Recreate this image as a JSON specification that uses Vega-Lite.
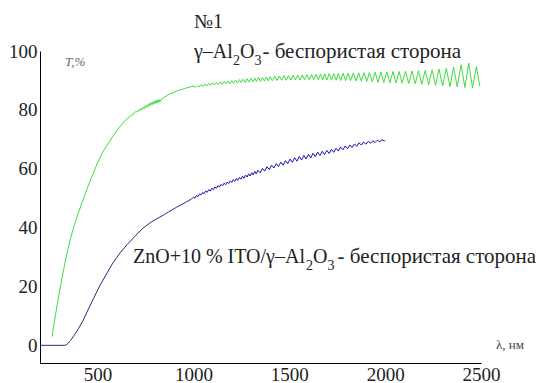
{
  "$schema": "https://vega.github.io/schema/vega-lite/v6.json",
  "width": 441,
  "height": 312,
  "autosize": {"type": "none"},
  "padding": {"left": 40, "top": 51, "right": 59, "bottom": 20},
  "background": "white",
  "config": {"view": {"stroke": null}},
  "datasets": {
    "green": [
      {"x":263,"y":3},{"x":270,"y":6},{"x":280,"y":10},{"x":290,"y":14},{"x":300,"y":17.5},{"x":315,"y":23},{"x":330,"y":28},{"x":345,"y":32.5},{"x":360,"y":36.5},{"x":380,"y":41},{"x":400,"y":45},{"x":425,"y":49.5},{"x":450,"y":54},{"x":475,"y":58},{"x":500,"y":62},{"x":530,"y":66},{"x":560,"y":69},{"x":600,"y":73},{"x":650,"y":76.8},{"x":690,"y":78.8},
      {"x":700,"y":79.45},{"x":705,"y":79.25},{"x":710,"y":79.8},{"x":715,"y":79.5},{"x":720,"y":80.2},{"x":725,"y":79.8},{"x":730,"y":80.6},{"x":735,"y":80.1},{"x":740,"y":81.0},{"x":745,"y":80.45},{"x":750,"y":81.4},{"x":755,"y":80.8},{"x":760,"y":81.8},{"x":765,"y":81.1},{"x":770,"y":82.15},{"x":775,"y":81.4},{"x":780,"y":82.5},{"x":785,"y":81.7},{"x":790,"y":82.8},{"x":795,"y":81.95},{"x":800,"y":83.1},{"x":805,"y":82.2},{"x":810,"y":83.35},{"x":815,"y":82.4},{"x":820,"y":83.55},{"x":825,"y":82.6},
      {"x":832,"y":83.6},{"x":870,"y":85.2},{"x":910,"y":86.3},{"x":950,"y":87.2},
      {"x":1000,"y":88.1},{"x":1010,"y":87.6},{"x":1020,"y":88.32},{"x":1030,"y":87.77},{"x":1040,"y":88.54},{"x":1050,"y":87.95},{"x":1060,"y":88.76},{"x":1070,"y":88.13},{"x":1080,"y":88.98},{"x":1090,"y":88.31},{"x":1100,"y":89.2},{"x":1110,"y":88.46},{"x":1120,"y":89.36},{"x":1130,"y":88.58},{"x":1140,"y":89.52},{"x":1150,"y":88.7},{"x":1160,"y":89.68},{"x":1170,"y":88.82},{"x":1180,"y":89.84},{"x":1190,"y":88.94},{"x":1200,"y":90.0},{"x":1210,"y":89.05},{"x":1220,"y":90.14},{"x":1230,"y":89.15},{"x":1240,"y":90.28},{"x":1250,"y":89.25},{"x":1260,"y":90.42},{"x":1270,"y":89.35},{"x":1280,"y":90.56},{"x":1290,"y":89.45},{"x":1300,"y":90.7},{"x":1310,"y":89.54},{"x":1320,"y":90.82},{"x":1330,"y":89.62},{"x":1340,"y":90.94},{"x":1350,"y":89.7},{"x":1360,"y":91.06},{"x":1370,"y":89.78},{"x":1380,"y":91.18},{"x":1390,"y":89.86},{"x":1400,"y":91.3},
      {"x":1412,"y":89.93},{"x":1424,"y":91.39},{"x":1436,"y":89.98},{"x":1448,"y":91.48},{"x":1460,"y":90.03},{"x":1472,"y":91.58},{"x":1484,"y":90.08},{"x":1496,"y":91.67},{"x":1508,"y":90.13},{"x":1520,"y":91.74},{"x":1532,"y":90.15},{"x":1544,"y":91.8},{"x":1556,"y":90.17},{"x":1568,"y":91.87},{"x":1580,"y":90.2},{"x":1592,"y":91.93},{"x":1604,"y":90.23},{"x":1616,"y":92.0},{"x":1628,"y":90.25},{"x":1640,"y":92.09},
      {"x":1652,"y":90.2},{"x":1663,"y":92.2},{"x":1674,"y":90.15},{"x":1685,"y":92.25},{"x":1696,"y":90.1},{"x":1708,"y":92.3},{"x":1720,"y":90.1},{"x":1732,"y":92.35},{"x":1744,"y":90.05},{"x":1756,"y":92.4},{"x":1768,"y":89.98},{"x":1781,"y":92.45},{"x":1794,"y":89.95},{"x":1807,"y":92.5},{"x":1820,"y":89.9},{"x":1834,"y":92.55},{"x":1848,"y":89.85},{"x":1862,"y":92.6},{"x":1876,"y":89.75},{"x":1890,"y":92.65},{"x":1904,"y":89.65},{"x":1918,"y":92.7},{"x":1933,"y":89.5},{"x":1948,"y":92.8},{"x":1963,"y":89.35},{"x":1978,"y":92.9},{"x":1993,"y":89.3},{"x":2009,"y":92.95},{"x":2025,"y":89.2},{"x":2041,"y":93.0},{"x":2057,"y":89.1},{"x":2073,"y":93.05},{"x":2089,"y":89.05},{"x":2106,"y":93.1},{"x":2123,"y":88.95},{"x":2140,"y":93.2},{"x":2157,"y":88.85},{"x":2174,"y":93.3},{"x":2191,"y":88.7},{"x":2209,"y":93.4},{"x":2227,"y":88.55},{"x":2245,"y":93.6},{"x":2263,"y":88.35},{"x":2281,"y":93.85},{"x":2300,"y":88.1},{"x":2319,"y":94.1},{"x":2338,"y":87.9},{"x":2357,"y":94.5},{"x":2376,"y":87.8},{"x":2396,"y":95.3},{"x":2416,"y":87.6},{"x":2436,"y":95.9},{"x":2456,"y":87.5},{"x":2476,"y":94.8},{"x":2494,"y":88}
    ],
    "blueLow": [
      {"x":200,"y":0},{"x":330,"y":0},{"x":340,"y":0.3},{"x":350,"y":0.9},{"x":360,"y":1.7},{"x":380,"y":3.6},{"x":400,"y":5.6},{"x":425,"y":8.5},{"x":450,"y":12},{"x":480,"y":16},{"x":513,"y":20.4},{"x":550,"y":24.6},{"x":580,"y":28},{"x":620,"y":31.6},{"x":654,"y":34.2},{"x":700,"y":37.4},{"x":737,"y":39.8},{"x":780,"y":41.9},{"x":826,"y":43.6},{"x":850,"y":44.5},{"x":870,"y":45.3},{"x":914,"y":47},{"x":960,"y":48.6},{"x":990,"y":49.7}
    ],
    "blueHigh": [
      {"x":990,"y":49.7},
      {"x":1000,"y":50.35},{"x":1008,"y":50.02},{"x":1016,"y":50.89},{"x":1024,"y":50.55},{"x":1032,"y":51.44},{"x":1040,"y":51.09},{"x":1048,"y":51.95},{"x":1056,"y":51.54},{"x":1064,"y":52.41},{"x":1072,"y":51.99},{"x":1080,"y":52.88},{"x":1088,"y":52.43},{"x":1096,"y":53.34},{"x":1104,"y":52.89},{"x":1112,"y":53.81},{"x":1120,"y":53.35},{"x":1128,"y":54.29},{"x":1136,"y":53.8},{"x":1144,"y":54.7},{"x":1152,"y":54.18},{"x":1160,"y":55.09},{"x":1168,"y":54.56},{"x":1176,"y":55.49},{"x":1184,"y":54.95},{"x":1192,"y":55.89},{"x":1200,"y":55.33},{"x":1208,"y":56.28},{"x":1216,"y":55.71},{"x":1224,"y":56.68},{"x":1232,"y":56.08},{"x":1240,"y":57.07},{"x":1248,"y":56.45},{"x":1256,"y":57.47},{"x":1264,"y":56.81},{"x":1272,"y":57.87},{"x":1280,"y":57.17},{"x":1288,"y":58.27},{"x":1296,"y":57.53},{"x":1304,"y":58.67},{"x":1312,"y":57.88},{"x":1320,"y":59.09},{"x":1328,"y":58.22},{"x":1336,"y":59.51},
      {"x":1348,"y":58.6},{"x":1360,"y":60.1},{"x":1372,"y":59.2},{"x":1384,"y":60.68},{"x":1396,"y":59.71},{"x":1408,"y":61.23},{"x":1420,"y":60.22},{"x":1432,"y":61.74},{"x":1444,"y":60.72},{"x":1456,"y":62.25},{"x":1468,"y":61.2},{"x":1480,"y":62.76},{"x":1492,"y":61.69},{"x":1504,"y":63.27},{"x":1516,"y":62.17},{"x":1528,"y":63.73},{"x":1540,"y":62.58},{"x":1552,"y":64.15},{"x":1564,"y":62.97},{"x":1576,"y":64.53},{"x":1588,"y":63.3},{"x":1600,"y":64.88},{"x":1612,"y":63.66},{"x":1624,"y":65.25},{"x":1636,"y":64.08},{"x":1648,"y":65.64},{"x":1660,"y":64.47},{"x":1672,"y":65.94},{"x":1684,"y":64.8},{"x":1696,"y":66.23},{"x":1708,"y":65.18},{"x":1720,"y":66.59},{"x":1732,"y":65.57},{"x":1744,"y":66.96},{"x":1756,"y":66.0},{"x":1768,"y":67.36},{"x":1780,"y":66.44},{"x":1792,"y":67.73},{"x":1804,"y":66.82},{"x":1816,"y":68.07},{"x":1828,"y":67.21},{"x":1840,"y":68.44},{"x":1852,"y":67.63},{"x":1864,"y":68.82},{"x":1876,"y":68.03},{"x":1888,"y":69.08},{"x":1900,"y":68.33},{"x":1912,"y":69.31},{"x":1924,"y":68.65},{"x":1936,"y":69.52},{"x":1948,"y":68.91},{"x":1960,"y":69.7},{"x":1972,"y":69.16},{"x":1984,"y":69.86},{"x":1996,"y":69.4},{"x":2000,"y":69.7}
    ],
    "mainText": [
      {"x":1003,"y":107.8,"t":"№1"},
      {"x":1003,"y":97.5,"t":"γ–Al"},
      {"x":1243,"y":97.5,"t":"O"},
      {"x":685,"y":27.9,"t":"ZnO+10 % ITO/γ–Al"},
      {"x":1624,"y":27.9,"t":"O"}
    ],
    "tailText": [
      {"x":1360,"y":97.5,"t":"\u00a0- беспористая сторона"},
      {"x":1752,"y":27.9,"t":"\u00a0- беспористая сторона"}
    ],
    "subText": [
      {"x":1207,"y":95.2,"t":"2"},
      {"x":1319,"y":95.2,"t":"3"},
      {"x":1587,"y":25.5,"t":"2"},
      {"x":1699,"y":25.5,"t":"3"}
    ],
    "axisT": [{"x":330,"y":94.8,"t":"T,%"}],
    "axisL": [{"x":2578,"y":-1.4,"t":"λ, нм"}]
  },
  "encoding": {
    "x": {"field": "x", "type": "quantitative", "scale": {"domain": [200, 2500], "nice": false, "zero": false},
      "axis": {"values": [500, 1000, 1500, 2000, 2500], "format": "d", "title": null, "ticks": false, "grid": false, "domainColor": "#000", "domainWidth": 1, "labelFont": "Liberation Serif", "labelFontSize": 19, "labelColor": "#222", "labelPadding": 2, "labelFlush": false, "labelOverlap": false, "labelBound": false}},
    "y": {"field": "y", "type": "quantitative", "scale": {"domain": [-6, 100], "nice": false, "zero": false},
      "axis": {"values": [0, 20, 40, 60, 80, 100], "title": null, "ticks": false, "grid": false, "domainColor": "#000", "domainWidth": 1, "labelFont": "Liberation Serif", "labelFontSize": 19, "labelColor": "#222", "labelPadding": 3, "labelFlush": false, "labelOverlap": false, "labelBound": false}}
  },
  "layer": [
    {"data": {"name": "green"}, "mark": {"type": "line", "color": "#3fdc3f", "strokeWidth": 1, "clip": false}},
    {"data": {"name": "blueLow"}, "mark": {"type": "line", "color": "#2a2a78", "strokeWidth": 1, "clip": false}},
    {"data": {"name": "blueHigh"}, "mark": {"type": "line", "color": "#1414b4", "strokeWidth": 1, "clip": false}},
    {"data": {"name": "mainText"}, "mark": {"type": "text", "align": "left", "baseline": "alphabetic", "font": "Liberation Serif", "fontSize": 20, "color": "#222"}, "encoding": {"text": {"field": "t"}}},
    {"data": {"name": "tailText"}, "mark": {"type": "text", "align": "left", "baseline": "alphabetic", "font": "Liberation Serif", "fontSize": 21, "color": "#222"}, "encoding": {"text": {"field": "t"}}},
    {"data": {"name": "subText"}, "mark": {"type": "text", "align": "left", "baseline": "alphabetic", "font": "Liberation Serif", "fontSize": 14, "color": "#222"}, "encoding": {"text": {"field": "t"}}},
    {"data": {"name": "axisT"}, "mark": {"type": "text", "align": "left", "baseline": "alphabetic", "font": "Liberation Serif", "fontStyle": "italic", "fontSize": 13, "color": "#666"}, "encoding": {"text": {"field": "t"}}},
    {"data": {"name": "axisL"}, "mark": {"type": "text", "align": "left", "baseline": "alphabetic", "font": "Liberation Serif", "fontSize": 13, "color": "#444"}, "encoding": {"text": {"field": "t"}}}
  ]
}
